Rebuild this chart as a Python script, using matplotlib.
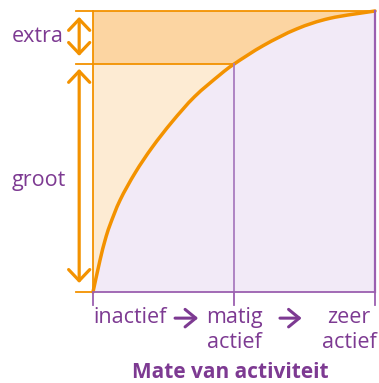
import numpy as np
import matplotlib
matplotlib.use("Agg")
import matplotlib.pyplot as plt
from matplotlib.path import Path
from matplotlib.patches import PathPatch

# curve (activity 0-100, benefit 0-100)
activiteit = [0, 2.5, 4.3, 6.0, 9.6, 15.0, 21.0, 28.0, 36.0, 45.0, 50, 60.4, 72.2, 84.0, 100]
voordeel = [0, 11.4, 18.5, 23.8, 32.7, 42.5, 51.5, 60.5, 69.5, 77.3, 81.1, 87.7, 93.6, 97.4, 100]
tick_pos = [0, 50, 100]
tick_labels = ["inactief", "matig\nactief", "zeer\nactief"]
matig_niveau = 81.1

oranje = "#f39200"
paars = "#9b5fb0"
tekst = "#7d3a92"
plt.rcParams["font.family"] = ["Open Sans", "DejaVu Sans"]


def glad(px, py):
    # vloeiende bezier door de punten (catmull-rom)
    p = np.column_stack([px, py]).astype(float)
    q = np.vstack([p[0], p, p[-1]])
    verts = [p[0]]
    for i in range(len(p) - 1):
        a, b, c, d = q[i], q[i + 1], q[i + 2], q[i + 3]
        verts += [b + (c - a) / 6, c - (d - b) / 6, c]
    return verts


fig = plt.figure(figsize=(3.79, 3.83), dpi=100)
ax = fig.add_axes([93 / 379, 1 - 292 / 383, 282 / 379, 281 / 383])
ax.set_xlim(0, 100)
ax.set_ylim(0, 100)
ax.axis("off")

k = activiteit.index(50)
links = glad(activiteit[:k + 1], voordeel[:k + 1])
rechts = glad(activiteit[k:], voordeel[k:])
heel = glad(activiteit, voordeel)


def vlak(verts, extra, kleur):
    v = verts + extra + [verts[0]]
    codes = [Path.MOVETO] + [Path.CURVE4] * (len(verts) - 1) + [Path.LINETO] * len(extra) + [Path.CLOSEPOLY]
    ax.add_patch(PathPatch(Path(v, codes), facecolor=kleur, lw=0))


# vlakken
vlak(heel, [(100, 0), (0, 0)], "#f2eaf7")
vlak(links, [(0, matig_niveau)], "#fdebd3")
vlak(rechts, [(100, 100), (0, 100), (0, matig_niveau)], "#fcd5a2")

# lijnen
ax.plot([-6.0, 100], [100, 100], color=oranje, lw=1.3, clip_on=False)
ax.plot([-6.0, 50], [matig_niveau, matig_niveau], color=oranje, lw=1.3, clip_on=False)
ax.plot([-6.0, 0], [0, 0], color=oranje, lw=1.3, clip_on=False)
ax.plot([0, 100], [0, 0], color=paars, lw=1.3, clip_on=False)
ax.plot([0, 0], [0, 100], color=oranje, lw=1.3, clip_on=False)
ax.plot([100, 100], [0, 100], color=paars, lw=1.6, clip_on=False)
ax.plot([50, 50], [0, matig_niveau], color="#a97cbf", lw=1.3, clip_on=False)
for t in tick_pos:
    ax.plot([t, t], [-4.6, 0], color=paars, lw=1.3, clip_on=False)

# curve
codes = [Path.MOVETO] + [Path.CURVE4] * (len(heel) - 1)
ax.add_patch(PathPatch(Path(heel, codes), facecolor="none", edgecolor=oranje, lw=2.5,
                       capstyle="round", clip_on=False))

# dubbele pijlen links
pijl = dict(arrowstyle="<->,head_length=0.4,head_width=0.38", color=oranje, lw=2.3,
            shrinkA=0, shrinkB=0, mutation_scale=20)
ax.annotate("", xy=(-4.9, 97.9), xytext=(-4.9, 84.0), arrowprops=pijl, annotation_clip=False)
ax.annotate("", xy=(-4.9, 79.4), xytext=(-4.9, 3.2), arrowprops=pijl, annotation_clip=False)
ax.text(-28.7, 89.1, "extra", color=tekst, fontsize=15.5, ha="left", va="baseline")
ax.text(-28.7, 37.7, "groot", color=tekst, fontsize=15.5, ha="left", va="baseline")

# labels onder de as
uitlijning = ["left", "center", "center"]
label_x = [0, 50, 90.8]
for lx, lab, ha in zip(label_x, tick_labels, uitlijning):
    for i, regel in enumerate(lab.split("\n")):
        ax.text(lx, -11.1 - 8.7 * i, regel, color=tekst, fontsize=15.5, ha=ha, va="baseline")

pijl2 = dict(arrowstyle="->,head_length=0.55,head_width=0.45", color=tekst, lw=2.2,
             shrinkA=0, shrinkB=0, mutation_scale=14)
ax.annotate("", xy=(37.3, -9.3), xytext=(29.1, -9.3), arrowprops=pijl2, annotation_clip=False)
ax.annotate("", xy=(74.0, -9.3), xytext=(66.3, -9.3), arrowprops=pijl2, annotation_clip=False)

ax.text(48.6, -30.6, "Mate van activiteit", color=tekst, fontsize=15, fontweight="bold",
        ha="center", va="baseline")

fig.savefig("out.png", dpi=100)
